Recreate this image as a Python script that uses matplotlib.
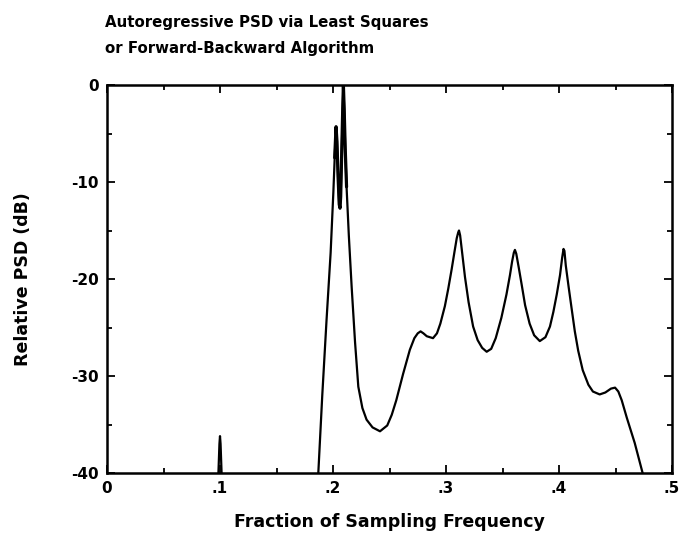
import matplotlib
matplotlib.use('Agg')
import matplotlib.pyplot as plt
from matplotlib.ticker import MultipleLocator

# Values (fraction of fs, dB)
freq = [0.0, 0.09, 0.098, 0.0995, 0.1, 0.1005, 0.102, 0.11, 0.18, 0.187,
        0.1905, 0.1943, 0.1979, 0.2003, 0.2015, 0.2027, 0.2035, 0.2045,
        0.2055, 0.2062, 0.2068, 0.2078, 0.2086, 0.2092, 0.2099, 0.2108,
        0.212, 0.214, 0.2165, 0.2195, 0.2224, 0.226, 0.2297, 0.235, 0.2416,
        0.248, 0.252, 0.256, 0.262, 0.268, 0.272, 0.275, 0.2775, 0.280,
        0.283, 0.2885, 0.292, 0.295, 0.299, 0.302, 0.305, 0.3075, 0.3095,
        0.3108, 0.3115, 0.3125, 0.3140, 0.3168, 0.320, 0.324, 0.328, 0.332,
        0.336, 0.340, 0.344, 0.349, 0.3535, 0.3566, 0.3585, 0.3600, 0.3610,
        0.3622, 0.3645, 0.367, 0.370, 0.374, 0.378, 0.383, 0.388, 0.392,
        0.395, 0.398, 0.4009, 0.4028, 0.4040, 0.4048, 0.406, 0.4085, 0.411,
        0.414, 0.417, 0.421, 0.426, 0.430, 0.436, 0.441, 0.446, 0.4496,
        0.4525, 0.4555, 0.460, 0.467, 0.474, 0.48, 0.5]
psd_db = [-48, -46, -42, -37, -36.2, -37, -42, -46, -44, -40,
          -32, -24.2, -17.3, -11.1, -7.5, -4.3, -5.8, -9.5,
          -12.3, -12.7, -11.5, -6.5, -2.5, 0, -2.5, -6.5,
          -10.5, -15.5, -20.8, -26.5, -31.1, -33.3, -34.5, -35.3, -35.7,
          -35.1, -34.0, -32.5, -29.8, -27.3, -26.1, -25.6, -25.4, -25.6,
          -25.9, -26.1, -25.6, -24.6, -22.8, -21.0, -19.0, -17.2, -15.8,
          -15.2, -15.0, -15.5, -17.0, -19.8, -22.4, -24.9, -26.3, -27.1,
          -27.5, -27.2, -26.1, -24.0, -21.6, -19.6, -18.2, -17.3, -17.0,
          -17.4, -18.9, -20.6, -22.7, -24.6, -25.8, -26.4, -26.0, -24.9,
          -23.4, -21.6, -19.6, -17.8, -16.9, -17.1, -18.6, -20.8, -22.9,
          -25.4, -27.4, -29.4, -30.9, -31.6, -31.9, -31.7, -31.3, -31.2,
          -31.6, -32.5, -34.3, -36.9, -40, -42, -50]

x_ticks = [0, 0.1, 0.2, 0.3, 0.4, 0.5]
x_tick_labels = ['0', '.1', '.2', '.3', '.4', '.5']
y_ticks = [0, -10, -20, -30, -40]

plt.rcParams['font.family'] = 'DejaVu Sans'
plt.rcParams['font.weight'] = 'bold'
plt.rcParams['axes.unicode_minus'] = False

fig = plt.figure(figsize=(6.97, 5.41), dpi=100)
ax = fig.add_axes([107/697, 1 - 473/541, 565/697, 388/541])

ax.plot(freq, psd_db, color='black', linewidth=1.6)

# the double peak near .2 looks heavier in the scan
i0, i1 = freq.index(0.2015), freq.index(0.212)
ax.plot(freq[i0:i1 + 1], psd_db[i0:i1 + 1], color='black', linewidth=2.3,
        solid_capstyle='round', solid_joinstyle='round')

ax.set_xlim(0, 0.5)
ax.set_ylim(-40, 0)
ax.set_xticks(x_ticks)
ax.set_xticklabels(x_tick_labels)
ax.set_yticks(y_ticks)
ax.xaxis.set_minor_locator(MultipleLocator(0.05))
ax.yaxis.set_minor_locator(MultipleLocator(5))
ax.tick_params(which='both', direction='in', top=True, right=True,
               width=1.3, labelsize=11, pad=6)
ax.tick_params(which='major', length=6)
ax.tick_params(which='minor', length=3.5)
for s in ax.spines.values():
    s.set_linewidth(1.8)

ax.set_xlabel('Fraction of Sampling Frequency', fontsize=12.5,
              fontweight='bold', labelpad=12)
ax.set_ylabel('Relative PSD (dB)', fontsize=12.5, fontweight='bold',
              labelpad=28)

fig.text(105/697, 1 - 22/541, 'Autoregressive PSD via Least Squares',
         fontsize=10.8, fontweight='bold', va='center', ha='left')
fig.text(105/697, 1 - 48/541, 'or Forward-Backward Algorithm',
         fontsize=10.8, fontweight='bold', va='center', ha='left')

fig.savefig('out.png', dpi=100, facecolor='white')
